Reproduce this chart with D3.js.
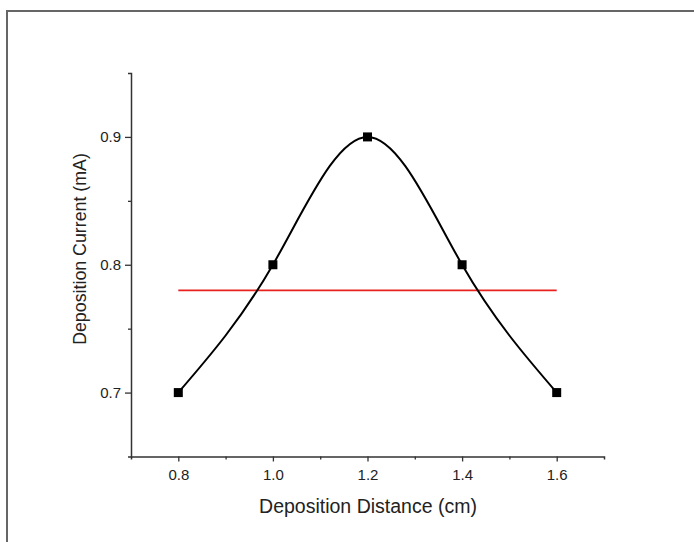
<!DOCTYPE html>
<html><head><meta charset="utf-8">
<script src="https://cdn.jsdelivr.net/npm/d3@7"></script>
<style>body{margin:0;background:#fff}svg{display:block}text{font-family:"Liberation Sans",Arial,Helvetica,sans-serif;fill:#222}</style>
</head><body><svg id="c" width="694" height="542"></svg>
<script>
const distance = [0.8, 1.0, 1.2, 1.4, 1.6];
const current = [0.7, 0.8, 0.9, 0.8, 0.7];
const refLevel = 0.78;
const refRange = [0.8, 1.6];
const xMajorTicks = [0.8, 1.0, 1.2, 1.4, 1.6];
const xMinorTicks = [0.9, 1.1, 1.3, 1.5];
const yMajorTicks = [0.7, 0.8, 0.9];
const yMinorTicks = [0.75, 0.85];
const xTitle = "Deposition Distance (cm)";
const yTitle = "Deposition Current (mA)";

const svg = d3.select("#c");
svg.append("path").attr("d","M7,542V11H694").attr("fill","none").attr("stroke","#666").attr("stroke-width",2);

const x = d3.scaleLinear().domain([0.7,1.7]).range([131,604]);
const y = d3.scaleLinear().domain([0.65,0.95]).range([456.5,73]);

const axStroke = "#333";
function styleAxis(g){
  g.attr("font-family",null).attr("font-size",null);
  g.selectAll("path.domain").attr("stroke",axStroke).attr("stroke-width",1.5);
  g.selectAll(".tick line").attr("stroke",axStroke).attr("stroke-width",1.3);
  g.selectAll("text").style("font-size","15px").attr("fill","#222");
}
const gx = svg.append("g").attr("transform",`translate(0,${y.range()[0]})`);
gx.call(d3.axisBottom(x).tickValues(xMajorTicks).tickFormat(d3.format(".1f")).tickSize(5).tickSizeOuter(3).tickPadding(8));
styleAxis(gx);
const gxm = svg.append("g").attr("transform",`translate(0,${y.range()[0]})`);
gxm.call(d3.axisBottom(x).tickValues(xMinorTicks).tickFormat("").tickSize(3).tickSizeOuter(0));
gxm.select("path.domain").remove();
styleAxis(gxm);
const gy = svg.append("g").attr("transform",`translate(${x.range()[0]},0)`);
gy.call(d3.axisLeft(y).tickValues(yMajorTicks).tickFormat(d3.format(".1f")).tickSize(6).tickSizeOuter(3).tickPadding(4));
styleAxis(gy);
const gym = svg.append("g").attr("transform",`translate(${x.range()[0]},0)`);
gym.call(d3.axisLeft(y).tickValues(yMinorTicks).tickFormat("").tickSize(3).tickSizeOuter(0));
gym.select("path.domain").remove();
styleAxis(gym);

svg.append("text").attr("x",368).attr("y",513).attr("text-anchor","middle").style("font-size","19.5px").text(xTitle);
svg.append("text").attr("transform","translate(86,249) rotate(-90)").attr("text-anchor","middle").style("font-size","17.8px").text(yTitle);

svg.append("line").attr("x1",x(refRange[0])).attr("x2",x(refRange[1])).attr("y1",y(refLevel)).attr("y2",y(refLevel))
  .attr("stroke","#e8231f").attr("stroke-width",1.8);

const pts = distance.map((d,i)=>[d,current[i]]);
const line = d3.line().x(d=>x(d[0])).y(d=>y(d[1])).curve(d3.curveNatural);
svg.append("path").attr("d",line(pts)).attr("fill","none").attr("stroke","#000").attr("stroke-width",2);

svg.selectAll("rect.m").data(pts).enter().append("rect").attr("class","m")
  .attr("x",d=>x(d[0])-4.5).attr("y",d=>y(d[1])-4.5).attr("width",9).attr("height",9).attr("fill","#000");
</script></body></html>
